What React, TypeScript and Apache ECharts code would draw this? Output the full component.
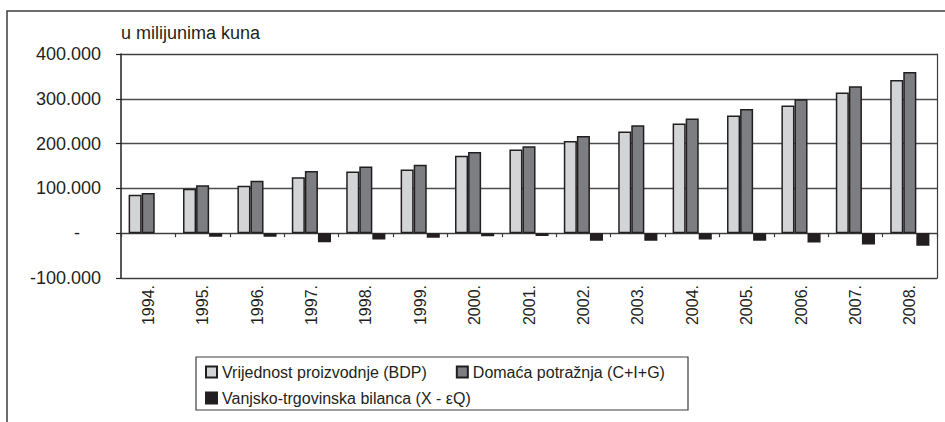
import React, { useEffect, useRef } from "react";
import * as echarts from "echarts";

const categories = [
  "1994.", "1995.", "1996.", "1997.", "1998.", "1999.", "2000.", "2001.",
  "2002.", "2003.", "2004.", "2005.", "2006.", "2007.", "2008.",
];
const seriesNames = [
  "Vrijednost proizvodnje (BDP)",
  "Domaća potražnja (C+I+G)",
  "Vanjsko-trgovinska bilanca (X - εQ)",
];
const bdp = [86000, 99000, 106000, 125000, 138000, 142000, 173000, 187000, 206000, 227000, 245000, 263000, 285000, 314000, 342000];
const domestic = [90000, 107000, 117000, 139000, 149000, 153000, 181000, 194000, 217000, 241000, 256000, 277000, 299000, 328000, 360000];
const balance = [null, -8000, -8000, -20000, -14000, -10000, -7000, -6000, -17000, -17000, -14000, -17000, -21000, -25000, -28000];
const yMin = -100000;
const yMax = 400000;
const yInterval = 100000;
const yTitle = "u milijunima kuna";

const FONT = "'Liberation Sans', Arial, sans-serif";
const TEXT = "#231f20";
const LINE = "#3c3c3c";

function fmt(v: number): string {
  const neg = v < 0;
  const s = String(Math.abs(Math.round(v)));
  const parts: string[] = [];
  for (let i = s.length; i > 0; i -= 3) parts.unshift(s.slice(Math.max(0, i - 3), i));
  return (neg ? "-" : "") + parts.join(".");
}

export default function App() {
  const ref = useRef<HTMLDivElement>(null);
  useEffect(() => {
    if (!ref.current) return;
    const chart = echarts.init(ref.current, undefined, { renderer: "svg" });
    const border = { borderColor: TEXT, borderWidth: 1.5 };
    const never = () => false;
    const noSplit = () => ({ show: false, interval: never, lineStyle: { opacity: 0, width: 0 } });
    const noTick = () => ({ show: false, interval: never, lineStyle: { opacity: 0, width: 0 } });
    const frameLine = () => ({ show: true, onZero: false, lineStyle: { color: LINE, width: 1.2 } });
    const barCommon = {
      type: "bar",
      xAxisIndex: 0,
      yAxisIndex: 0,
      barGap: "0%",
      barCategoryGap: "28%",
      showBackground: false,
    };
    chart.setOption({
      animation: false,
      textStyle: { fontFamily: FONT, color: TEXT },
      grid: { left: 121, top: 54, right: 8, bottom: 144, show: false },
      xAxis: [
        {
          type: "category",
          data: categories,
          position: "bottom",
          axisLine: frameLine(),
          axisTick: noTick(),
          splitLine: noSplit(),
          splitArea: { show: false },
          minorTick: { show: false },
          minorSplitLine: { show: false },
          axisLabel: { rotate: 90, margin: 7, fontSize: 16, color: TEXT, fontFamily: FONT },
        },
        {
          type: "category",
          data: categories,
          position: "top",
          axisLine: frameLine(),
          axisTick: noTick(),
          splitLine: noSplit(),
          splitArea: { show: false },
          axisLabel: { show: false },
        },
        {
          type: "category",
          data: categories,
          position: "bottom",
          axisLine: { show: true, onZero: true, lineStyle: { color: LINE, width: 1.2 } },
          axisTick: { show: true, length: 4, lineStyle: { color: LINE, width: 1.2 } },
          axisLabel: { show: false },
          splitLine: noSplit(),
          splitArea: { show: false },
        },
      ],
      yAxis: [
        {
          type: "value",
          min: yMin,
          max: yMax,
          interval: yInterval,
          name: yTitle,
          nameLocation: "end",
          nameGap: 21,
          nameTextStyle: { align: "left", verticalAlign: "middle", fontSize: 18, color: TEXT, fontFamily: FONT },
          axisLine: { show: true, onZero: false, lineStyle: { color: TEXT, width: 1.5 } },
          axisTick: { show: true, length: 5, lineStyle: { color: TEXT, width: 1.2 } },
          splitLine: { show: true, lineStyle: { color: "#4d4d4d", width: 1.3 } },
          axisLabel: {
            margin: 20,
            fontSize: 18,
            color: TEXT,
            fontFamily: FONT,
            formatter: (v: number) => (v === 0 ? "{z|-}" : fmt(v)),
            rich: { z: { fontSize: 18, color: TEXT, fontFamily: FONT, padding: [0, 21, 0, 0] } },
          },
        },
        {
          type: "value",
          min: yMin,
          max: yMax,
          interval: yInterval,
          position: "right",
          axisLine: frameLine(),
          axisTick: { show: false },
          splitLine: { show: false },
          axisLabel: { show: false },
        },
      ],
      legend: [
        {
          data: [seriesNames[0], seriesNames[1]],
          left: 205, top: 364, padding: 0, itemGap: 29,
          itemWidth: 11, itemHeight: 11, icon: "rect",
          textStyle: { fontSize: 16, color: TEXT, fontFamily: FONT, lineHeight: 16 },
        },
        {
          data: [seriesNames[2]],
          left: 205, top: 390, padding: 0,
          itemWidth: 11, itemHeight: 11, icon: "rect",
          textStyle: { fontSize: 16, color: TEXT, fontFamily: FONT, lineHeight: 16 },
        },
      ],
      series: [
        { ...barCommon, name: seriesNames[0], data: bdp, itemStyle: { color: "#d3d4d6", ...border } },
        { ...barCommon, name: seriesNames[1], data: domestic, itemStyle: { color: "#7d7e81", ...border } },
        { ...barCommon, name: seriesNames[2], data: balance, itemStyle: { color: "#231f20", ...border } },
      ],
      graphic: [
        {
          type: "polyline",
          shape: { points: [[7, 422], [7, 11], [945, 11]] },
          style: { stroke: LINE, lineWidth: 1.5, fill: "none" },
          silent: true,
        },
        {
          type: "rect",
          shape: { x: 196, y: 357, width: 492, height: 53 },
          style: { stroke: LINE, lineWidth: 1.2, fill: "none" },
          silent: true,
        },
      ],
    });
    return () => chart.dispose();
  }, []);
  return (
    <div
      ref={ref}
      style={{ position: "absolute", left: 0, top: 0, width: 945, height: 422, background: "#fff" }}
    />
  );
}
